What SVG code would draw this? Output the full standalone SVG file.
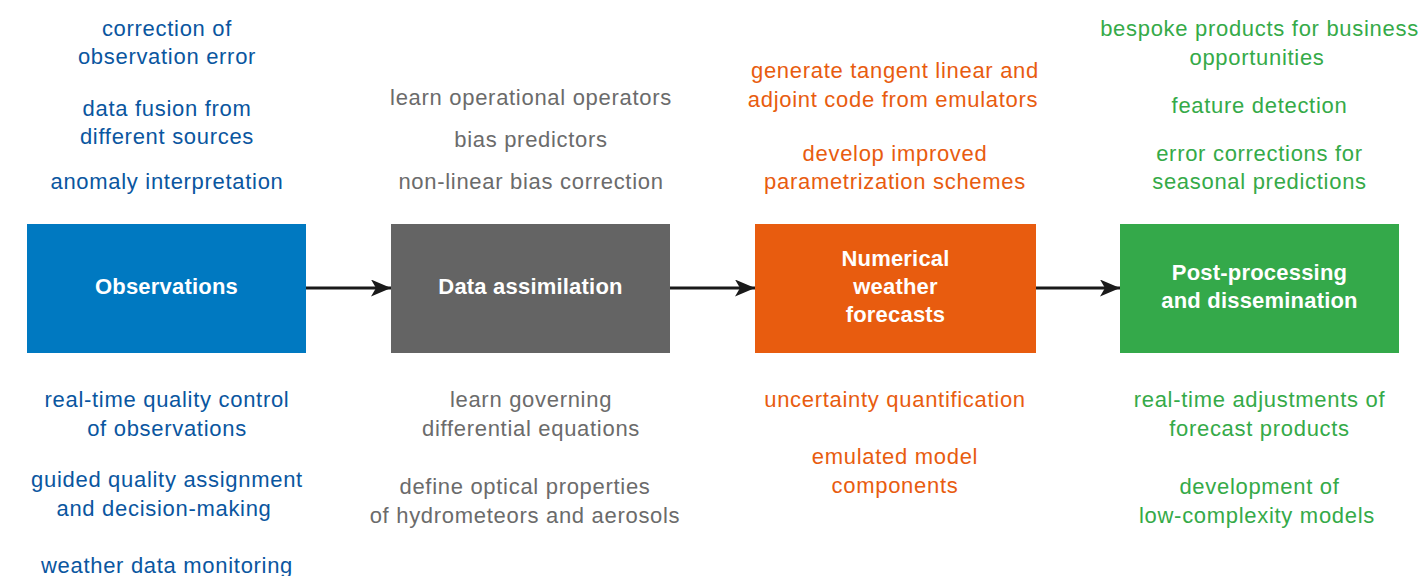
<svg xmlns="http://www.w3.org/2000/svg" width="1422" height="576" viewBox="0 0 1422 576">
<style>
text{font-family:"Liberation Sans",Arial,sans-serif;font-size:22px;letter-spacing:0.7px;text-anchor:middle}
.b{fill:#0a56a0}.g{fill:#6b6b6b}.o{fill:#e85c0f}.gr{fill:#35aa48}
.lbl{fill:#ffffff;font-weight:bold;font-size:22px;letter-spacing:0.2px}
.edge{stroke:#1a1a1a;stroke-width:2.8;fill:none}
</style>
<defs>
<marker id="ah" viewBox="0 0 20 17" refX="20" refY="8.5" markerWidth="20" markerHeight="17" markerUnits="userSpaceOnUse" orient="auto">
<path d="M0,0 L20,8.5 L0,17 L5,8.5 Z" fill="#1a1a1a"/>
</marker>
</defs>
<rect width="1422" height="576" fill="#ffffff"/>
<g id="connectors">
<line class="edge" x1="306" y1="288" x2="391" y2="288" marker-end="url(#ah)"/>
<line class="edge" x1="670" y1="288" x2="755" y2="288" marker-end="url(#ah)"/>
<line class="edge" x1="1036" y1="288" x2="1120" y2="288" marker-end="url(#ah)"/>
</g>
<g id="observations">
<rect x="27" y="224" width="279" height="129" fill="#0079c1"/>
<text class="lbl" x="166.5" y="294">Observations</text>
</g>
<g id="data-assimilation">
<rect x="391" y="224" width="279" height="129" fill="#646464"/>
<text class="lbl" x="530.5" y="294">Data assimilation</text>
</g>
<g id="nwp">
<rect x="755" y="224" width="281" height="129" fill="#e85c0f"/>
<text class="lbl" x="895.5" y="266">Numerical</text>
<text class="lbl" x="895.5" y="294">weather</text>
<text class="lbl" x="895.5" y="322">forecasts</text>
</g>
<g id="post-processing">
<rect x="1120" y="224" width="279" height="129" fill="#34a94a"/>
<text class="lbl" x="1259.5" y="280">Post-processing</text>
<text class="lbl" x="1259.5" y="308">and dissemination</text>
</g>
<g id="obs-notes">
<text class="b" x="167" y="36">correction of</text>
<text class="b" x="167" y="64">observation error</text>
<text class="b" x="167" y="116">data fusion from</text>
<text class="b" x="167" y="144">different sources</text>
<text class="b" x="167" y="189">anomaly interpretation</text>
<text class="b" x="167" y="407">real-time quality control</text>
<text class="b" x="167" y="436">of observations</text>
<text class="b" x="167" y="487">guided quality assignment</text>
<text class="b" x="164" y="516">and decision-making</text>
<text class="b" x="167" y="573">weather data monitoring</text>
</g>
<g id="da-notes">
<text class="g" x="531" y="105">learn operational operators</text>
<text class="g" x="531" y="147">bias predictors</text>
<text class="g" x="531" y="189">non-linear bias correction</text>
<text class="g" x="531" y="407">learn governing</text>
<text class="g" x="531" y="436">differential equations</text>
<text class="g" x="525" y="494">define optical properties</text>
<text class="g" x="525" y="523">of hydrometeors and aerosols</text>
</g>
<g id="nwp-notes">
<text class="o" x="895" y="78">generate tangent linear and</text>
<text class="o" x="893" y="107">adjoint code from emulators</text>
<text class="o" x="895" y="161">develop improved</text>
<text class="o" x="895" y="189">parametrization schemes</text>
<text class="o" x="895" y="407">uncertainty quantification</text>
<text class="o" x="895" y="464">emulated model</text>
<text class="o" x="895" y="493">components</text>
</g>
<g id="post-notes">
<text class="gr" x="1259.5" y="36">bespoke products for business</text>
<text class="gr" x="1257" y="65">opportunities</text>
<text class="gr" x="1259.5" y="113">feature detection</text>
<text class="gr" x="1259.5" y="161">error corrections for</text>
<text class="gr" x="1259.5" y="189">seasonal predictions</text>
<text class="gr" x="1259.5" y="407">real-time adjustments of</text>
<text class="gr" x="1259.5" y="436">forecast products</text>
<text class="gr" x="1259.5" y="494">development of</text>
<text class="gr" x="1257" y="523">low-complexity models</text>
</g>
</svg>
